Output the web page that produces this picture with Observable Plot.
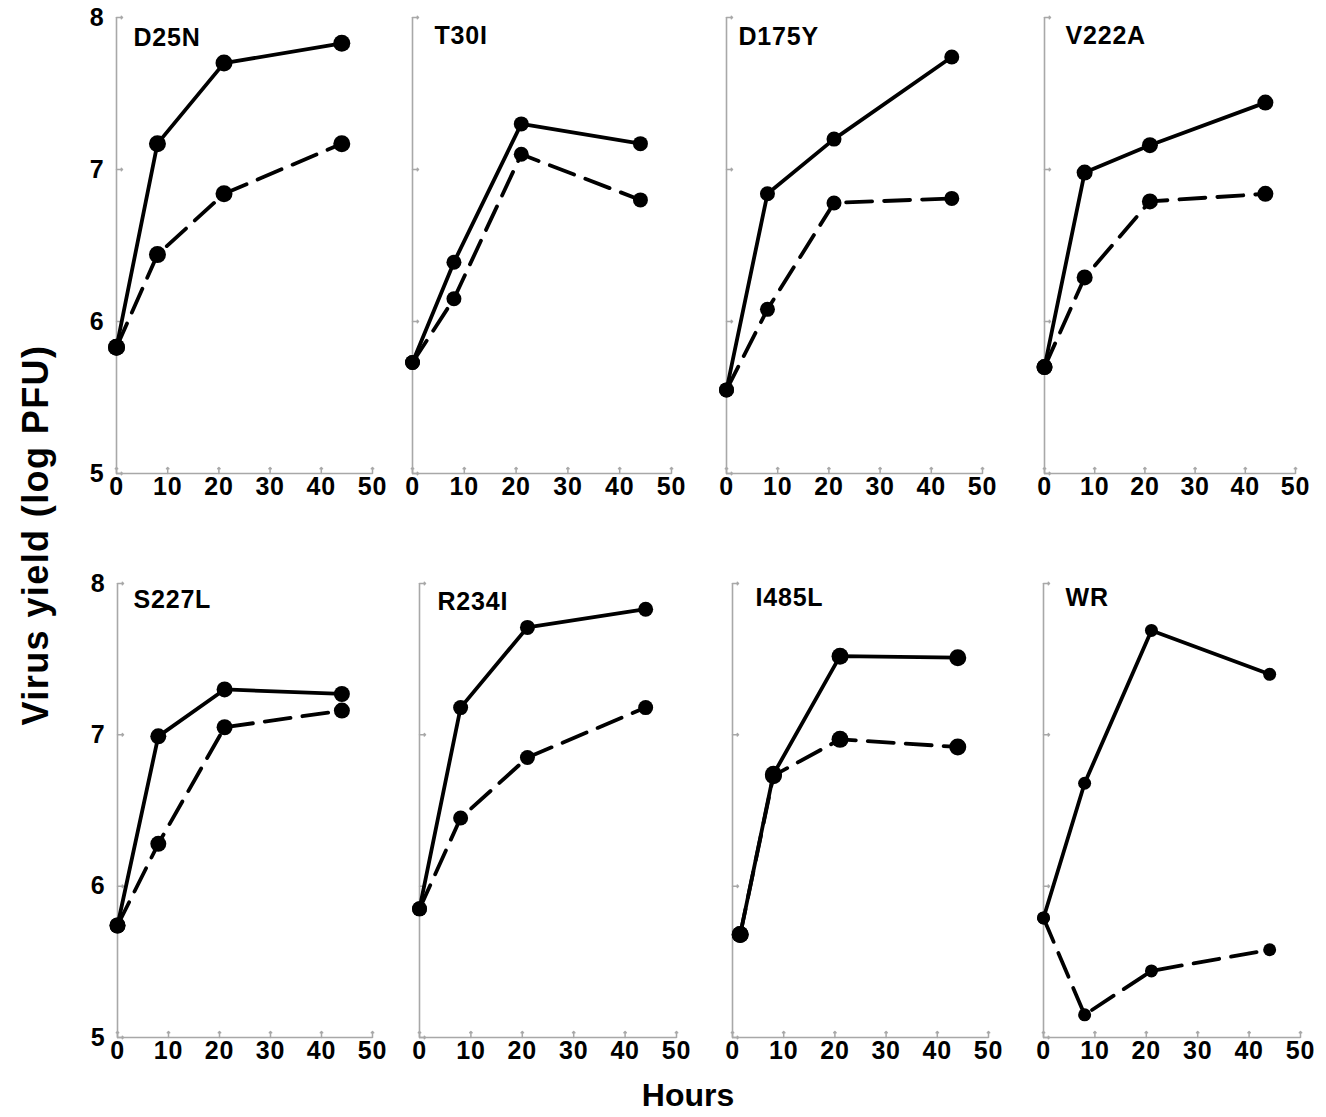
<!DOCTYPE html>
<html>
<head>
<meta charset="utf-8">
<script src="https://cdn.jsdelivr.net/npm/d3@7"></script>
<script src="https://cdn.jsdelivr.net/npm/@observablehq/plot@0.6"></script>
<style>
  body { margin: 0; background: #fff; }
  #fig { position: relative; width: 1326px; height: 1117px; overflow: hidden; background: #fff; font-family: "Liberation Sans", Arial, sans-serif; }
  .panel { position: absolute; }
  .panel svg text { font-weight: bold; letter-spacing: 0.8px; }
  .ylabel { position: absolute; left: 36px; top: 535px; transform: translate(-50%, -50%) rotate(-90deg); white-space: nowrap; font-weight: bold; font-size: 36px; letter-spacing: 1.4px; color: #000; }
  .xlabel { position: absolute; left: 688px; top: 1077px; transform: translateX(-50%); white-space: nowrap; font-weight: bold; font-size: 32px; line-height: 36px; color: #000; }
</style>
</head>
<body>
<div id="fig">
  <div class="ylabel">Virus yield (log PFU)</div>
  <div class="xlabel">Hours</div>
</div>
<script>
// ---- data ----
const panels = ["D25N", "T30I", "D175Y", "V222A", "S227L", "R234I", "I485L", "WR"];
const hours = [0, 8, 21, 44];
const hoursI485L = [1.5, 8, 21, 44];
const solidYield = [
  [5.83, 7.17, 7.70, 7.83],  // D25N
  [5.73, 6.39, 7.30, 7.17],  // T30I
  [5.55, 6.84, 7.20, 7.74],  // D175Y
  [5.70, 6.98, 7.16, 7.44],  // V222A
  [5.74, 6.99, 7.30, 7.27],  // S227L
  [5.85, 7.18, 7.71, 7.83],  // R234I
  [5.68, 6.74, 7.52, 7.51],  // I485L
  [5.79, 6.68, 7.69, 7.40]   // WR
];
const dashedYield = [
  [5.83, 6.44, 6.84, 7.17],
  [5.73, 6.15, 7.10, 6.80],
  [5.55, 6.08, 6.78, 6.81],
  [5.70, 6.29, 6.79, 6.84],
  [5.74, 6.28, 7.05, 7.16],
  [5.85, 6.45, 6.85, 7.18],
  [5.68, 6.73, 6.97, 6.92],
  [5.79, 5.15, 5.44, 5.58]
];
const xTicks = [0, 10, 20, 30, 40, 50];
const yTicks = [5, 6, 7, 8];

// ---- layout (pixel frame of each panel) ----
const layout = [
  {x0: 116, x1: 372, y0: 17,  y1: 473,  tdx: 17, tdy: 11, r: 8.5},
  {x0: 412, x1: 671, y0: 17,  y1: 473,  tdx: 22, tdy: 9, r: 7.5},
  {x0: 726, x1: 982, y0: 17,  y1: 473,  tdx: 12, tdy: 10, r: 7.5},
  {x0: 1044, x1: 1295, y0: 17, y1: 473, tdx: 21, tdy: 9, r: 8},
  {x0: 117, x1: 372, y0: 583, y1: 1037, tdx: 16, tdy: 7, r: 8},
  {x0: 419, x1: 676, y0: 583, y1: 1037, tdx: 18, tdy: 9, r: 7.5},
  {x0: 732, x1: 988, y0: 583, y1: 1037, tdx: 23, tdy: 5, r: 8.5},
  {x0: 1043, x1: 1300, y0: 583, y1: 1037, tdx: 22, tdy: 5, r: 6.5}
];

const axisGrey = "#a8a8a8";
const mL = 60, mR = 24, mT = 17, mB = 45;
const fig = document.getElementById("fig");

panels.forEach((name, i) => {
  const L = layout[i];
  const t = name === "I485L" ? hoursI485L : hours;
  const rows = t.map((h, j) => ({h, s: solidYield[i][j], d: dashedYield[i][j]}));
  const showY = i % 4 === 0;
  const marks = [
    Plot.ruleX([0], {stroke: axisGrey, strokeWidth: 1.6}),
    Plot.ruleY([5], {stroke: axisGrey, strokeWidth: 1.6}),
    Plot.vector(yTicks, {x: 0, y: d => d, length: 6, rotate: 90, anchor: "start", stroke: axisGrey, strokeWidth: 1.5}),
    Plot.vector(xTicks, {x: d => d, y: 5, length: 6, rotate: 0, anchor: "start", stroke: axisGrey, strokeWidth: 1.5}),
    Plot.axisX({ticks: xTicks, tickSize: 0, tickPadding: 4, tickFormat: "d", label: null, fontSize: 25, fontWeight: "bold", fill: "#000"}),
    Plot.line(rows, {x: "h", y: "d", stroke: "#000", strokeWidth: 3.8, strokeDasharray: "26,12"}),
    Plot.line(rows, {x: "h", y: "s", stroke: "#000", strokeWidth: 3.8}),
    Plot.dot(rows, {x: "h", y: "d", r: L.r, fill: "#000"}),
    Plot.dot(rows, {x: "h", y: "s", r: L.r, fill: "#000"}),
    Plot.text([name], {frameAnchor: "top-left", dx: L.tdx, dy: L.tdy, textAnchor: "start", lineAnchor: "top", fontSize: 25, fontWeight: "bold", fill: "#000"})
  ];
  if (showY) marks.push(Plot.axisY({ticks: yTicks, tickSize: 0, tickPadding: 12, tickFormat: "d", label: null, fontSize: 25, fontWeight: "bold", fill: "#000"}));
  const plot = Plot.plot({
    width: (L.x1 - L.x0) + mL + mR,
    height: (L.y1 - L.y0) + mT + mB,
    marginLeft: mL, marginRight: mR, marginTop: mT, marginBottom: mB,
    style: {background: "transparent", overflow: "visible", fontFamily: "Liberation Sans, Arial, sans-serif", fontSize: "25px", color: "#000"},
    x: {domain: [0, 50], axis: null},
    y: {domain: [5, 8], axis: null},
    marks
  });
  const wrap = document.createElement("div");
  wrap.className = "panel";
  wrap.style.left = (L.x0 - mL) + "px";
  wrap.style.top = (L.y0 - mT) + "px";
  wrap.appendChild(plot);
  fig.appendChild(wrap);
});
</script>
</body>
</html>
